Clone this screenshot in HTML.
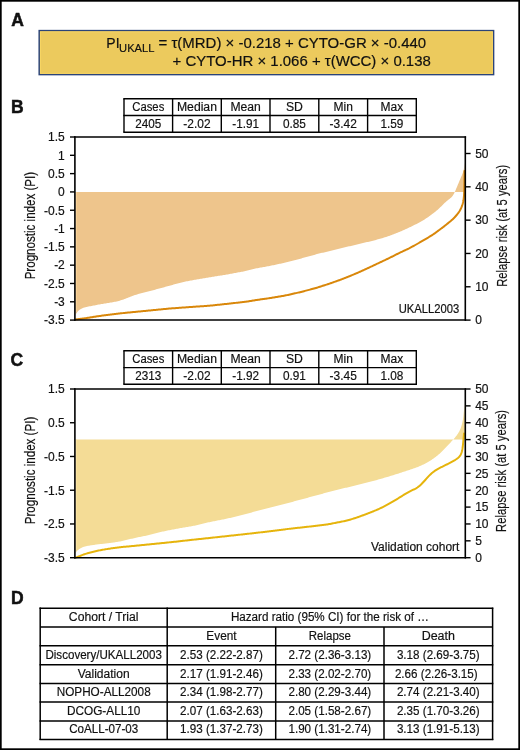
<!DOCTYPE html>
<html><head><meta charset="utf-8"><style>
html,body{margin:0;padding:0;background:#fff;overflow:hidden;width:520px;height:750px;}
svg{display:block;will-change:transform;}
text{font-family:"Liberation Sans", sans-serif;fill:#111;stroke:#111;stroke-width:0.18px;}
</style></head><body>
<svg width="520" height="750" viewBox="0 0 520 750">
<rect x="0" y="0" width="520" height="750" fill="#fff"/>
<rect x="0.85" y="0.85" width="518.3" height="748.3" fill="none" stroke="#000" stroke-width="1.7"/>
<text x="11.2" y="25.8" font-size="17.5" text-anchor="start" font-weight="bold" style="stroke-width:0.5px">A</text>
<text x="11.0" y="113.3" font-size="17.5" text-anchor="start" font-weight="bold" style="stroke-width:0.5px">B</text>
<text x="10.6" y="365.6" font-size="17.5" text-anchor="start" font-weight="bold" style="stroke-width:0.5px">C</text>
<text x="11.0" y="604" font-size="17.5" text-anchor="start" font-weight="bold" style="stroke-width:0.5px">D</text>
<rect x="39.2" y="30.6" width="454.4" height="44" fill="#ECCA5D" stroke="#2B4479" stroke-width="1.5"/>
<rect x="40.45" y="31.85" width="451.9" height="41.5" fill="none" stroke="#F8D564" stroke-width="1"/>
<text x="106.3" y="48.2" font-size="14">PI</text>
<text x="119.1" y="52.2" font-size="11" textLength="35.3" lengthAdjust="spacingAndGlyphs">UKALL</text>
<text x="158.5" y="48.2" font-size="14" text-anchor="start" textLength="267.7" lengthAdjust="spacingAndGlyphs">= τ(MRD) × -0.218 + CYTO-GR × -0.440</text>
<text x="172.6" y="66.2" font-size="14" text-anchor="start" textLength="258.2" lengthAdjust="spacingAndGlyphs">+ CYTO-HR × 1.066 + τ(WCC) × 0.138</text>
<line x1="123.3" y1="98.7" x2="417.0" y2="98.7" stroke="#000" stroke-width="1.4"/>
<line x1="123.3" y1="115.5" x2="417.0" y2="115.5" stroke="#000" stroke-width="1.4"/>
<line x1="123.3" y1="132.2" x2="417.0" y2="132.2" stroke="#000" stroke-width="1.4"/>
<line x1="124" y1="98.7" x2="124" y2="132.2" stroke="#000" stroke-width="1.4"/>
<line x1="172.6" y1="98.7" x2="172.6" y2="132.2" stroke="#000" stroke-width="1.4"/>
<line x1="221.3" y1="98.7" x2="221.3" y2="132.2" stroke="#000" stroke-width="1.4"/>
<line x1="270" y1="98.7" x2="270" y2="132.2" stroke="#000" stroke-width="1.4"/>
<line x1="318.8" y1="98.7" x2="318.8" y2="132.2" stroke="#000" stroke-width="1.4"/>
<line x1="367.6" y1="98.7" x2="367.6" y2="132.2" stroke="#000" stroke-width="1.4"/>
<line x1="416.3" y1="98.7" x2="416.3" y2="132.2" stroke="#000" stroke-width="1.4"/>
<text x="148.3" y="110.6" font-size="12" text-anchor="middle" textLength="32" lengthAdjust="spacingAndGlyphs">Cases</text>
<text x="148.3" y="127.9" font-size="12" text-anchor="middle" textLength="26" lengthAdjust="spacingAndGlyphs">2405</text>
<text x="196.95" y="110.6" font-size="12" text-anchor="middle" textLength="40" lengthAdjust="spacingAndGlyphs">Median</text>
<text x="196.95" y="127.9" font-size="12" text-anchor="middle" textLength="27.2" lengthAdjust="spacingAndGlyphs">-2.02</text>
<text x="245.65" y="110.6" font-size="12" text-anchor="middle" textLength="30.4" lengthAdjust="spacingAndGlyphs">Mean</text>
<text x="245.65" y="127.9" font-size="12" text-anchor="middle" textLength="26.8" lengthAdjust="spacingAndGlyphs">-1.91</text>
<text x="294.4" y="110.6" font-size="12" text-anchor="middle" textLength="17" lengthAdjust="spacingAndGlyphs">SD</text>
<text x="294.4" y="127.9" font-size="12" text-anchor="middle" textLength="23.0" lengthAdjust="spacingAndGlyphs">0.85</text>
<text x="343.2" y="110.6" font-size="12" text-anchor="middle">Min</text>
<text x="343.2" y="127.9" font-size="12" text-anchor="middle" textLength="27.2" lengthAdjust="spacingAndGlyphs">-3.42</text>
<text x="391.95" y="110.6" font-size="12" text-anchor="middle">Max</text>
<text x="391.95" y="127.9" font-size="12" text-anchor="middle" textLength="23.0" lengthAdjust="spacingAndGlyphs">1.59</text>
<line x1="123.3" y1="350.8" x2="417.0" y2="350.8" stroke="#000" stroke-width="1.4"/>
<line x1="123.3" y1="367.6" x2="417.0" y2="367.6" stroke="#000" stroke-width="1.4"/>
<line x1="123.3" y1="384.3" x2="417.0" y2="384.3" stroke="#000" stroke-width="1.4"/>
<line x1="124" y1="350.8" x2="124" y2="384.3" stroke="#000" stroke-width="1.4"/>
<line x1="172.6" y1="350.8" x2="172.6" y2="384.3" stroke="#000" stroke-width="1.4"/>
<line x1="221.3" y1="350.8" x2="221.3" y2="384.3" stroke="#000" stroke-width="1.4"/>
<line x1="270" y1="350.8" x2="270" y2="384.3" stroke="#000" stroke-width="1.4"/>
<line x1="318.8" y1="350.8" x2="318.8" y2="384.3" stroke="#000" stroke-width="1.4"/>
<line x1="367.6" y1="350.8" x2="367.6" y2="384.3" stroke="#000" stroke-width="1.4"/>
<line x1="416.3" y1="350.8" x2="416.3" y2="384.3" stroke="#000" stroke-width="1.4"/>
<text x="148.3" y="362.7" font-size="12" text-anchor="middle" textLength="32" lengthAdjust="spacingAndGlyphs">Cases</text>
<text x="148.3" y="380.0" font-size="12" text-anchor="middle" textLength="26" lengthAdjust="spacingAndGlyphs">2313</text>
<text x="196.95" y="362.7" font-size="12" text-anchor="middle" textLength="40" lengthAdjust="spacingAndGlyphs">Median</text>
<text x="196.95" y="380.0" font-size="12" text-anchor="middle" textLength="27.2" lengthAdjust="spacingAndGlyphs">-2.02</text>
<text x="245.65" y="362.7" font-size="12" text-anchor="middle" textLength="30.4" lengthAdjust="spacingAndGlyphs">Mean</text>
<text x="245.65" y="380.0" font-size="12" text-anchor="middle" textLength="26.8" lengthAdjust="spacingAndGlyphs">-1.92</text>
<text x="294.4" y="362.7" font-size="12" text-anchor="middle" textLength="17" lengthAdjust="spacingAndGlyphs">SD</text>
<text x="294.4" y="380.0" font-size="12" text-anchor="middle" textLength="23.0" lengthAdjust="spacingAndGlyphs">0.91</text>
<text x="343.2" y="362.7" font-size="12" text-anchor="middle">Min</text>
<text x="343.2" y="380.0" font-size="12" text-anchor="middle" textLength="27.2" lengthAdjust="spacingAndGlyphs">-3.45</text>
<text x="391.95" y="362.7" font-size="12" text-anchor="middle">Max</text>
<text x="391.95" y="380.0" font-size="12" text-anchor="middle" textLength="23.0" lengthAdjust="spacingAndGlyphs">1.08</text>
<path d="M75.6,191.9 L465,191.9 L464.50,163.00 L464.40,164.00 L464.31,165.03 L464.21,166.08 L464.11,167.12 L463.97,168.15 L463.80,169.16 L463.59,170.17 L463.35,171.17 L463.06,172.15 L462.75,173.11 L462.39,174.06 L462.00,175.00 L461.60,175.93 L461.20,176.87 L460.80,177.80 L460.40,178.73 L460.00,179.67 L459.60,180.60 L459.21,181.54 L458.81,182.47 L458.42,183.41 L458.02,184.34 L457.63,185.28 L457.24,186.21 L456.85,187.15 L456.46,188.09 L456.07,189.02 L455.67,189.96 L455.27,190.90 L454.86,191.84 L454.43,192.76 L453.96,193.66 L453.46,194.53 L452.92,195.38 L452.32,196.19 L451.68,196.95 L450.98,197.66 L450.23,198.33 L449.44,198.96 L448.65,199.60 L447.86,200.23 L447.06,200.86 L446.28,201.51 L445.52,202.17 L444.77,202.85 L444.04,203.54 L443.33,204.26 L442.62,204.97 L441.91,205.69 L441.20,206.40 L440.48,207.11 L439.75,207.81 L439.00,208.51 L438.24,209.20 L437.45,209.88 L436.66,210.56 L435.85,211.22 L435.03,211.88 L434.19,212.53 L433.35,213.18 L432.52,213.83 L431.68,214.46 L430.85,215.09 L430.02,215.70 L429.19,216.30 L428.35,216.89 L427.51,217.47 L426.67,218.03 L425.83,218.59 L424.99,219.14 L424.14,219.68 L423.29,220.22 L422.43,220.74 L421.55,221.26 L420.67,221.76 L419.77,222.26 L418.86,222.75 L417.95,223.22 L417.02,223.69 L416.10,224.15 L415.17,224.62 L414.24,225.08 L413.31,225.54 L412.38,226.00 L411.46,226.46 L410.53,226.91 L409.60,227.35 L408.67,227.79 L407.74,228.22 L406.82,228.64 L405.89,229.06 L404.96,229.48 L404.03,229.90 L403.10,230.31 L402.18,230.73 L401.25,231.14 L400.31,231.55 L399.38,231.95 L398.44,232.34 L397.50,232.73 L396.55,233.11 L395.60,233.49 L394.64,233.85 L393.69,234.21 L392.73,234.57 L391.77,234.93 L390.81,235.29 L389.85,235.64 L388.89,235.99 L387.92,236.33 L386.94,236.66 L385.97,236.98 L384.98,237.30 L383.99,237.60 L383.00,237.90 L382.00,238.19 L381.00,238.48 L380.00,238.77 L379.00,239.05 L378.00,239.33 L377.00,239.61 L376.00,239.88 L375.00,240.15 L374.00,240.41 L373.00,240.67 L372.00,240.92 L371.00,241.16 L370.00,241.40 L369.00,241.64 L368.00,241.88 L367.00,242.12 L366.00,242.36 L365.00,242.60 L364.00,242.84 L363.00,243.08 L362.00,243.32 L361.00,243.56 L360.00,243.79 L359.00,244.03 L358.00,244.26 L357.00,244.50 L356.00,244.73 L355.00,244.97 L354.00,245.20 L353.00,245.43 L352.00,245.67 L351.00,245.90 L350.00,246.13 L349.00,246.37 L348.00,246.60 L347.00,246.84 L346.00,247.07 L345.00,247.31 L344.00,247.54 L343.00,247.78 L342.00,248.02 L341.00,248.26 L340.00,248.50 L339.00,248.74 L338.00,248.98 L337.00,249.22 L336.00,249.46 L335.00,249.70 L334.00,249.94 L333.00,250.18 L332.00,250.42 L331.00,250.66 L330.00,250.91 L329.00,251.15 L328.00,251.40 L327.00,251.64 L326.00,251.89 L325.00,252.13 L324.00,252.38 L323.00,252.63 L322.00,252.87 L321.00,253.12 L320.00,253.37 L319.00,253.61 L318.00,253.86 L317.01,254.11 L316.02,254.37 L315.03,254.63 L314.05,254.89 L313.07,255.15 L312.10,255.42 L311.13,255.68 L310.16,255.95 L309.19,256.23 L308.23,256.50 L307.26,256.77 L306.29,257.04 L305.32,257.31 L304.35,257.58 L303.39,257.85 L302.41,258.12 L301.44,258.39 L300.46,258.66 L299.47,258.92 L298.49,259.19 L297.49,259.45 L296.50,259.71 L295.50,259.97 L294.50,260.23 L293.50,260.49 L292.50,260.75 L291.50,261.01 L290.50,261.27 L289.50,261.53 L288.50,261.79 L287.50,262.04 L286.50,262.29 L285.50,262.53 L284.50,262.77 L283.50,263.00 L282.50,263.23 L281.50,263.45 L280.50,263.66 L279.50,263.87 L278.50,264.09 L277.50,264.30 L276.50,264.51 L275.50,264.73 L274.50,264.94 L273.50,265.15 L272.50,265.36 L271.50,265.57 L270.50,265.77 L269.50,265.96 L268.50,266.16 L267.50,266.34 L266.50,266.53 L265.50,266.71 L264.50,266.89 L263.50,267.07 L262.50,267.25 L261.50,267.43 L260.50,267.61 L259.50,267.79 L258.50,267.97 L257.50,268.17 L256.49,268.37 L255.49,268.59 L254.48,268.82 L253.48,269.05 L252.47,269.30 L251.46,269.57 L250.44,269.83 L249.44,270.10 L248.43,270.35 L247.43,270.59 L246.43,270.82 L245.44,271.04 L244.44,271.25 L243.45,271.44 L242.47,271.63 L241.48,271.82 L240.50,272.00 L239.52,272.18 L238.53,272.37 L237.55,272.55 L236.56,272.74 L235.58,272.92 L234.59,273.11 L233.61,273.29 L232.62,273.48 L231.64,273.66 L230.65,273.84 L229.66,274.02 L228.67,274.20 L227.67,274.38 L226.67,274.55 L225.67,274.72 L224.67,274.89 L223.66,275.05 L222.65,275.22 L221.64,275.38 L220.63,275.54 L219.62,275.71 L218.61,275.87 L217.59,276.03 L216.58,276.19 L215.57,276.36 L214.56,276.52 L213.55,276.68 L212.54,276.85 L211.53,277.01 L210.53,277.18 L209.52,277.34 L208.52,277.51 L207.52,277.67 L206.53,277.84 L205.53,278.01 L204.54,278.18 L203.55,278.35 L202.56,278.52 L201.57,278.68 L200.58,278.85 L199.59,279.02 L198.60,279.19 L197.61,279.36 L196.62,279.53 L195.63,279.70 L194.64,279.87 L193.65,280.04 L192.66,280.21 L191.67,280.39 L190.68,280.57 L189.68,280.76 L188.68,280.95 L187.68,281.15 L186.67,281.36 L185.66,281.58 L184.65,281.79 L183.64,282.02 L182.63,282.24 L181.62,282.48 L180.61,282.72 L179.60,282.97 L178.59,283.22 L177.58,283.49 L176.57,283.76 L175.56,284.04 L174.55,284.32 L173.54,284.61 L172.52,284.89 L171.51,285.17 L170.49,285.45 L169.47,285.74 L168.45,286.02 L167.43,286.30 L166.41,286.58 L165.38,286.86 L164.35,287.14 L163.33,287.42 L162.30,287.70 L161.27,287.98 L160.25,288.26 L159.22,288.54 L158.19,288.82 L157.17,289.10 L156.15,289.37 L155.12,289.64 L154.10,289.90 L153.09,290.17 L152.07,290.43 L151.05,290.69 L150.04,290.94 L149.04,291.20 L148.04,291.45 L147.04,291.71 L146.05,291.97 L145.06,292.23 L144.08,292.49 L143.10,292.75 L142.12,293.01 L141.13,293.28 L140.13,293.55 L139.12,293.81 L138.11,294.09 L137.11,294.39 L136.10,294.70 L135.10,295.02 L134.11,295.36 L133.12,295.71 L132.15,296.07 L131.19,296.45 L130.24,296.84 L129.28,297.22 L128.33,297.60 L127.38,297.97 L126.42,298.33 L125.47,298.69 L124.52,299.04 L123.56,299.39 L122.61,299.74 L121.65,300.06 L120.69,300.37 L119.71,300.66 L118.73,300.94 L117.73,301.19 L116.74,301.43 L115.73,301.65 L114.71,301.86 L113.69,302.04 L112.67,302.23 L111.65,302.41 L110.63,302.59 L109.61,302.77 L108.60,302.94 L107.59,303.10 L106.58,303.27 L105.57,303.43 L104.56,303.58 L103.55,303.74 L102.54,303.90 L101.53,304.05 L100.52,304.22 L99.52,304.40 L98.51,304.59 L97.51,304.79 L96.50,304.99 L95.50,305.20 L94.50,305.40 L93.50,305.61 L92.50,305.81 L91.50,305.99 L90.50,306.17 L89.50,306.35 L88.49,306.54 L87.48,306.75 L86.46,306.98 L85.44,307.23 L84.42,307.51 L83.41,307.85 L82.40,308.24 L81.41,308.69 L80.48,309.20 L79.59,309.77 L78.77,310.41 L78.04,311.12 L77.41,311.91 L76.79,312.72 L76.25,313.58 L75.85,314.50 L75.62,315.50 L75.50,316.00 Z" fill="#EEC58C" stroke="none"/>
<rect x="75.7" y="191.9" width="1.1" height="120.2" fill="#FAD59C"/>
<path d="M75.80,319.40 L76.81,319.28 L77.82,319.17 L78.83,319.05 L79.84,318.94 L80.85,318.82 L81.86,318.70 L82.87,318.58 L83.89,318.45 L84.90,318.31 L85.91,318.17 L86.92,318.01 L87.93,317.86 L88.95,317.69 L89.96,317.52 L90.98,317.35 L92.00,317.18 L93.03,317.01 L94.06,316.85 L95.09,316.68 L96.12,316.52 L97.16,316.36 L98.20,316.20 L99.23,316.05 L100.27,315.90 L101.30,315.76 L102.33,315.61 L103.36,315.47 L104.39,315.33 L105.42,315.20 L106.44,315.07 L107.47,314.94 L108.49,314.81 L109.52,314.69 L110.54,314.56 L111.56,314.44 L112.58,314.32 L113.60,314.20 L114.62,314.08 L115.64,313.96 L116.66,313.84 L117.68,313.72 L118.70,313.60 L119.72,313.48 L120.74,313.36 L121.76,313.25 L122.78,313.13 L123.81,313.02 L124.83,312.91 L125.86,312.81 L126.88,312.70 L127.91,312.60 L128.93,312.50 L129.96,312.40 L130.99,312.30 L132.01,312.20 L133.04,312.10 L134.07,312.00 L135.09,311.90 L136.12,311.80 L137.15,311.70 L138.17,311.60 L139.20,311.50 L140.23,311.40 L141.25,311.30 L142.28,311.20 L143.31,311.10 L144.33,311.00 L145.36,310.90 L146.39,310.80 L147.41,310.70 L148.44,310.60 L149.47,310.50 L150.49,310.40 L151.52,310.30 L152.55,310.20 L153.57,310.10 L154.60,310.00 L155.63,309.90 L156.65,309.80 L157.68,309.70 L158.71,309.60 L159.73,309.50 L160.76,309.40 L161.79,309.30 L162.81,309.20 L163.84,309.10 L164.87,309.00 L165.89,308.90 L166.92,308.80 L167.94,308.71 L168.96,308.62 L169.98,308.53 L171.00,308.44 L172.02,308.36 L173.03,308.28 L174.04,308.21 L175.05,308.13 L176.06,308.06 L177.07,307.98 L178.08,307.91 L179.09,307.84 L180.11,307.76 L181.12,307.69 L182.13,307.62 L183.14,307.54 L184.15,307.47 L185.16,307.39 L186.17,307.32 L187.18,307.25 L188.19,307.18 L189.21,307.11 L190.22,307.03 L191.23,306.96 L192.25,306.90 L193.26,306.83 L194.28,306.76 L195.29,306.69 L196.31,306.62 L197.33,306.55 L198.34,306.48 L199.36,306.42 L200.37,306.35 L201.39,306.28 L202.41,306.21 L203.42,306.14 L204.44,306.07 L205.45,306.00 L206.47,305.93 L207.48,305.85 L208.49,305.76 L209.51,305.67 L210.52,305.58 L211.53,305.48 L212.54,305.38 L213.55,305.27 L214.56,305.17 L215.57,305.06 L216.58,304.96 L217.59,304.85 L218.61,304.75 L219.62,304.64 L220.63,304.54 L221.64,304.43 L222.65,304.33 L223.66,304.22 L224.67,304.11 L225.68,304.01 L226.69,303.90 L227.70,303.79 L228.71,303.68 L229.72,303.57 L230.73,303.45 L231.74,303.34 L232.75,303.22 L233.76,303.11 L234.77,302.99 L235.78,302.87 L236.79,302.76 L237.81,302.64 L238.82,302.53 L239.83,302.41 L240.84,302.29 L241.85,302.18 L242.86,302.06 L243.87,301.94 L244.88,301.81 L245.89,301.68 L246.90,301.54 L247.91,301.39 L248.93,301.23 L249.94,301.07 L250.95,300.90 L251.96,300.73 L252.97,300.56 L253.98,300.40 L254.99,300.24 L255.99,300.08 L257.00,299.93 L258.00,299.78 L259.00,299.64 L260.00,299.50 L261.00,299.36 L262.00,299.22 L263.00,299.08 L264.00,298.94 L265.00,298.80 L266.00,298.66 L267.00,298.52 L268.00,298.37 L269.00,298.22 L270.00,298.07 L271.00,297.92 L272.00,297.76 L273.00,297.60 L274.00,297.43 L275.00,297.27 L276.00,297.10 L277.00,296.93 L278.00,296.77 L279.00,296.60 L280.00,296.43 L281.00,296.27 L282.00,296.09 L283.00,295.92 L284.00,295.73 L285.00,295.54 L286.00,295.34 L287.00,295.13 L288.00,294.91 L289.00,294.69 L290.00,294.47 L291.00,294.24 L292.00,294.01 L293.00,293.79 L294.00,293.56 L295.00,293.33 L296.00,293.11 L297.00,292.88 L298.00,292.64 L299.00,292.41 L300.00,292.16 L301.00,291.92 L302.00,291.67 L303.00,291.42 L304.00,291.16 L305.00,290.90 L306.00,290.64 L307.00,290.38 L308.00,290.12 L309.00,289.86 L310.00,289.60 L311.00,289.34 L312.00,289.08 L312.99,288.81 L313.98,288.53 L314.97,288.25 L315.95,287.96 L316.93,287.67 L317.90,287.37 L318.87,287.06 L319.84,286.75 L320.81,286.44 L321.77,286.13 L322.74,285.82 L323.71,285.51 L324.68,285.20 L325.65,284.89 L326.61,284.58 L327.58,284.27 L328.55,283.95 L329.52,283.62 L330.48,283.29 L331.45,282.96 L332.42,282.62 L333.39,282.28 L334.35,281.93 L335.32,281.58 L336.29,281.24 L337.26,280.89 L338.23,280.54 L339.19,280.19 L340.16,279.84 L341.13,279.49 L342.09,279.14 L343.06,278.78 L344.01,278.42 L344.97,278.05 L345.92,277.68 L346.87,277.30 L347.81,276.91 L348.75,276.53 L349.69,276.13 L350.62,275.74 L351.56,275.34 L352.50,274.95 L353.44,274.56 L354.38,274.16 L355.31,273.77 L356.25,273.38 L357.18,272.98 L358.12,272.58 L359.04,272.17 L359.97,271.77 L360.89,271.36 L361.81,270.94 L362.72,270.52 L363.64,270.10 L364.55,269.68 L365.45,269.25 L366.36,268.83 L367.27,268.41 L368.18,267.98 L369.09,267.56 L370.00,267.13 L370.91,266.71 L371.82,266.28 L372.73,265.86 L373.64,265.43 L374.55,265.01 L375.45,264.58 L376.36,264.15 L377.27,263.72 L378.18,263.29 L379.09,262.86 L380.00,262.43 L380.91,262.00 L381.82,261.57 L382.73,261.14 L383.64,260.71 L384.55,260.28 L385.45,259.85 L386.36,259.42 L387.27,258.99 L388.18,258.55 L389.09,258.11 L390.00,257.66 L390.91,257.22 L391.82,256.76 L392.73,256.31 L393.64,255.85 L394.55,255.38 L395.45,254.92 L396.36,254.45 L397.27,253.99 L398.18,253.54 L399.09,253.09 L400.00,252.65 L400.91,252.21 L401.82,251.78 L402.73,251.35 L403.64,250.93 L404.55,250.51 L405.45,250.09 L406.36,249.67 L407.27,249.25 L408.17,248.81 L409.08,248.37 L409.97,247.91 L410.87,247.45 L411.76,246.98 L412.65,246.49 L413.54,246.00 L414.42,245.50 L415.31,245.00 L416.19,244.50 L417.08,244.00 L417.96,243.50 L418.85,243.00 L419.73,242.49 L420.62,241.98 L421.51,241.47 L422.40,240.95 L423.29,240.43 L424.18,239.90 L425.07,239.38 L425.96,238.85 L426.85,238.32 L427.75,237.78 L428.64,237.25 L429.53,236.72 L430.42,236.18 L431.29,235.64 L432.16,235.08 L433.02,234.51 L433.88,233.93 L434.72,233.35 L435.56,232.75 L436.39,232.14 L437.21,231.53 L438.03,230.91 L438.85,230.30 L439.67,229.69 L440.49,229.07 L441.31,228.46 L442.13,227.84 L442.95,227.22 L443.77,226.59 L444.58,225.96 L445.39,225.32 L446.19,224.68 L447.00,224.04 L447.80,223.39 L448.60,222.74 L449.40,222.09 L450.20,221.43 L451.00,220.78 L451.77,220.11 L452.53,219.42 L453.27,218.72 L453.99,218.01 L454.70,217.28 L455.38,216.53 L456.05,215.77 L456.70,215.00 L457.34,214.22 L457.95,213.42 L458.53,212.60 L459.09,211.77 L459.62,210.92 L460.12,210.06 L460.59,209.17 L461.04,208.28 L461.44,207.35 L461.81,206.41 L462.15,205.46 L462.47,204.50 L462.77,203.52 L463.03,202.54 L463.26,201.54 L463.44,200.54 L463.58,199.52 L463.71,198.51 L463.82,197.51 L463.92,196.50 L463.99,195.50 L464.05,194.50 L464.10,193.50 L464.15,192.50 L464.19,191.50 L464.23,190.50 L464.27,189.50 L464.30,188.50 L464.33,187.50 L464.35,186.50 L464.37,185.50 L464.40,184.50 L464.42,183.50 L464.43,182.50 L464.45,181.50 L464.46,180.50 L464.47,179.50 L464.48,178.50 L464.49,177.50 L464.49,176.50 L464.50,175.50 L464.50,174.50 L464.50,173.50 L464.50,172.50 L464.50,171.50 L464.50,171.00" fill="none" stroke="#D9870A" stroke-width="2" stroke-linejoin="round" stroke-linecap="round"/>
<line x1="74.9" y1="136.3" x2="74.9" y2="320.8" stroke="#000" stroke-width="1.6"/>
<line x1="465.3" y1="136.3" x2="465.3" y2="320.8" stroke="#000" stroke-width="1.6"/>
<line x1="74.10000000000001" y1="137.0" x2="466.1" y2="137.0" stroke="#000" stroke-width="1.5"/>
<line x1="74.10000000000001" y1="320.1" x2="466.1" y2="320.1" stroke="#000" stroke-width="1.5"/>
<line x1="70" y1="137.0" x2="74.9" y2="137.0" stroke="#000" stroke-width="1.4"/>
<text x="64.8" y="141.3" font-size="12" text-anchor="end">1.5</text>
<line x1="70" y1="155.31" x2="74.9" y2="155.31" stroke="#000" stroke-width="1.4"/>
<text x="64.8" y="159.61" font-size="12" text-anchor="end">1</text>
<line x1="70" y1="173.62" x2="74.9" y2="173.62" stroke="#000" stroke-width="1.4"/>
<text x="64.8" y="177.92" font-size="12" text-anchor="end">0.5</text>
<line x1="70" y1="191.93" x2="74.9" y2="191.93" stroke="#000" stroke-width="1.4"/>
<text x="64.8" y="196.23" font-size="12" text-anchor="end">0</text>
<line x1="70" y1="210.24" x2="74.9" y2="210.24" stroke="#000" stroke-width="1.4"/>
<text x="64.8" y="214.54" font-size="12" text-anchor="end">-0.5</text>
<line x1="70" y1="228.55" x2="74.9" y2="228.55" stroke="#000" stroke-width="1.4"/>
<text x="64.8" y="232.85" font-size="12" text-anchor="end">-1</text>
<line x1="70" y1="246.86" x2="74.9" y2="246.86" stroke="#000" stroke-width="1.4"/>
<text x="64.8" y="251.16" font-size="12" text-anchor="end">-1.5</text>
<line x1="70" y1="265.17" x2="74.9" y2="265.17" stroke="#000" stroke-width="1.4"/>
<text x="64.8" y="269.47" font-size="12" text-anchor="end">-2</text>
<line x1="70" y1="283.48" x2="74.9" y2="283.48" stroke="#000" stroke-width="1.4"/>
<text x="64.8" y="287.78" font-size="12" text-anchor="end">-2.5</text>
<line x1="70" y1="301.79" x2="74.9" y2="301.79" stroke="#000" stroke-width="1.4"/>
<text x="64.8" y="306.09" font-size="12" text-anchor="end">-3</text>
<line x1="70" y1="320.1" x2="74.9" y2="320.1" stroke="#000" stroke-width="1.4"/>
<text x="64.8" y="324.4" font-size="12" text-anchor="end">-3.5</text>
<line x1="465.3" y1="320.1" x2="470.6" y2="320.1" stroke="#000" stroke-width="1.4"/>
<text x="475.2" y="324.4" font-size="12" text-anchor="start">0</text>
<line x1="465.3" y1="286.78000000000003" x2="470.6" y2="286.78000000000003" stroke="#000" stroke-width="1.4"/>
<text x="475.2" y="291.08" font-size="12" text-anchor="start">10</text>
<line x1="465.3" y1="253.46" x2="470.6" y2="253.46" stroke="#000" stroke-width="1.4"/>
<text x="475.2" y="257.76" font-size="12" text-anchor="start">20</text>
<line x1="465.3" y1="220.14000000000001" x2="470.6" y2="220.14000000000001" stroke="#000" stroke-width="1.4"/>
<text x="475.2" y="224.44" font-size="12" text-anchor="start">30</text>
<line x1="465.3" y1="186.82" x2="470.6" y2="186.82" stroke="#000" stroke-width="1.4"/>
<text x="475.2" y="191.12" font-size="12" text-anchor="start">40</text>
<line x1="465.3" y1="153.5" x2="470.6" y2="153.5" stroke="#000" stroke-width="1.4"/>
<text x="475.2" y="157.8" font-size="12" text-anchor="start">50</text>
<text x="459.2" y="313" font-size="12" text-anchor="end" textLength="60.5" lengthAdjust="spacingAndGlyphs">UKALL2003</text>
<text transform="translate(35.3,225.6) rotate(-90)" font-size="14" text-anchor="middle" textLength="107.5" lengthAdjust="spacingAndGlyphs">Prognostic index (PI)</text>
<text transform="translate(507.0,225.8) rotate(-90)" font-size="14" text-anchor="middle" textLength="122" lengthAdjust="spacingAndGlyphs">Relapse risk (at 5 years)</text>
<path d="M75.6,439.6 L465,439.6 L464.60,404.00 L464.50,405.00 L464.40,406.00 L464.30,407.00 L464.20,408.00 L464.10,409.00 L464.00,410.00 L463.90,411.00 L463.80,412.00 L463.70,413.00 L463.60,414.00 L463.50,415.00 L463.40,416.00 L463.29,417.00 L463.16,418.00 L463.01,419.00 L462.84,420.00 L462.66,421.00 L462.46,422.00 L462.24,423.00 L462.00,424.00 L461.73,424.99 L461.44,425.98 L461.12,426.95 L460.78,427.92 L460.41,428.88 L460.01,429.82 L459.59,430.76 L459.11,431.67 L458.59,432.57 L458.04,433.45 L457.46,434.32 L456.86,435.18 L456.23,436.02 L455.57,436.85 L454.88,437.66 L454.18,438.46 L453.48,439.26 L452.78,440.05 L452.06,440.84 L451.35,441.62 L450.62,442.39 L449.89,443.16 L449.15,443.92 L448.42,444.69 L447.69,445.45 L446.97,446.21 L446.25,446.97 L445.53,447.73 L444.82,448.48 L444.10,449.24 L443.38,449.98 L442.65,450.72 L441.90,451.46 L441.15,452.19 L440.39,452.92 L439.61,453.63 L438.83,454.32 L438.04,455.00 L437.23,455.65 L436.43,456.30 L435.61,456.92 L434.79,457.54 L433.96,458.13 L433.13,458.71 L432.29,459.30 L431.46,459.88 L430.62,460.46 L429.77,461.02 L428.91,461.56 L428.04,462.08 L427.16,462.59 L426.28,463.07 L425.37,463.54 L424.46,464.00 L423.54,464.43 L422.62,464.86 L421.70,465.29 L420.77,465.70 L419.84,466.11 L418.91,466.50 L417.97,466.89 L417.03,467.25 L416.09,467.61 L415.15,467.95 L414.20,468.28 L413.25,468.60 L412.30,468.92 L411.35,469.24 L410.39,469.56 L409.44,469.88 L408.48,470.20 L407.52,470.52 L406.55,470.84 L405.59,471.16 L404.62,471.48 L403.65,471.80 L402.68,472.12 L401.71,472.44 L400.74,472.75 L399.78,473.07 L398.81,473.38 L397.85,473.69 L396.88,473.99 L395.92,474.30 L394.96,474.60 L394.00,474.90 L393.04,475.20 L392.08,475.50 L391.11,475.80 L390.13,476.10 L389.15,476.39 L388.16,476.69 L387.16,476.99 L386.16,477.28 L385.16,477.58 L384.15,477.87 L383.14,478.17 L382.13,478.46 L381.12,478.75 L380.11,479.04 L379.09,479.33 L378.08,479.62 L377.07,479.91 L376.06,480.19 L375.05,480.48 L374.04,480.76 L373.03,481.04 L372.03,481.32 L371.03,481.59 L370.03,481.85 L369.03,482.11 L368.04,482.36 L367.05,482.61 L366.07,482.85 L365.09,483.09 L364.10,483.33 L363.12,483.57 L362.14,483.81 L361.15,484.04 L360.17,484.28 L359.19,484.52 L358.20,484.76 L357.22,485.00 L356.24,485.24 L355.26,485.47 L354.27,485.71 L353.29,485.95 L352.31,486.19 L351.32,486.43 L350.34,486.67 L349.36,486.91 L348.37,487.15 L347.39,487.39 L346.41,487.63 L345.42,487.87 L344.44,488.12 L343.45,488.36 L342.47,488.61 L341.48,488.85 L340.50,489.10 L339.52,489.35 L338.53,489.59 L337.55,489.84 L336.56,490.08 L335.58,490.33 L334.59,490.58 L333.61,490.82 L332.62,491.07 L331.64,491.32 L330.65,491.56 L329.67,491.81 L328.68,492.07 L327.70,492.32 L326.72,492.58 L325.73,492.84 L324.75,493.10 L323.76,493.37 L322.78,493.63 L321.79,493.90 L320.81,494.17 L319.82,494.43 L318.84,494.70 L317.85,494.97 L316.87,495.23 L315.88,495.50 L314.90,495.77 L313.92,496.03 L312.93,496.30 L311.95,496.57 L310.96,496.83 L309.97,497.10 L308.99,497.37 L308.00,497.63 L307.01,497.90 L306.02,498.17 L305.04,498.43 L304.05,498.70 L303.06,498.97 L302.07,499.23 L301.08,499.50 L300.09,499.77 L299.10,500.03 L298.11,500.30 L297.12,500.57 L296.13,500.83 L295.14,501.10 L294.15,501.37 L293.16,501.63 L292.17,501.90 L291.18,502.16 L290.19,502.42 L289.21,502.68 L288.22,502.93 L287.23,503.19 L286.25,503.44 L285.26,503.68 L284.28,503.93 L283.29,504.18 L282.31,504.42 L281.32,504.67 L280.34,504.92 L279.35,505.16 L278.37,505.41 L277.38,505.65 L276.40,505.90 L275.42,506.15 L274.43,506.39 L273.45,506.64 L272.46,506.89 L271.48,507.14 L270.49,507.39 L269.51,507.65 L268.53,507.90 L267.54,508.16 L266.56,508.42 L265.58,508.69 L264.59,508.95 L263.61,509.21 L262.63,509.48 L261.64,509.74 L260.66,510.01 L259.68,510.27 L258.70,510.53 L257.71,510.80 L256.73,511.06 L255.75,511.33 L254.76,511.59 L253.78,511.85 L252.80,512.12 L251.81,512.38 L250.83,512.64 L249.85,512.91 L248.87,513.17 L247.88,513.43 L246.90,513.68 L245.91,513.94 L244.93,514.19 L243.95,514.44 L242.96,514.68 L241.98,514.93 L240.99,515.18 L240.01,515.42 L239.02,515.67 L238.04,515.92 L237.05,516.16 L236.07,516.41 L235.08,516.65 L234.10,516.90 L233.12,517.15 L232.13,517.39 L231.15,517.64 L230.16,517.88 L229.18,518.11 L228.19,518.33 L227.21,518.56 L226.22,518.77 L225.24,518.98 L224.25,519.18 L223.27,519.38 L222.28,519.57 L221.30,519.77 L220.32,519.96 L219.33,520.16 L218.35,520.35 L217.36,520.55 L216.38,520.74 L215.39,520.94 L214.41,521.13 L213.42,521.33 L212.44,521.52 L211.45,521.72 L210.46,521.92 L209.48,522.14 L208.48,522.35 L207.49,522.58 L206.50,522.80 L205.50,523.04 L204.50,523.28 L203.50,523.52 L202.50,523.77 L201.50,524.01 L200.50,524.26 L199.50,524.50 L198.50,524.74 L197.50,524.98 L196.50,525.20 L195.50,525.42 L194.50,525.63 L193.50,525.83 L192.50,526.02 L191.50,526.20 L190.50,526.38 L189.50,526.55 L188.50,526.73 L187.50,526.90 L186.50,527.07 L185.50,527.25 L184.50,527.42 L183.50,527.59 L182.50,527.77 L181.50,527.95 L180.50,528.12 L179.50,528.30 L178.50,528.49 L177.50,528.67 L176.50,528.85 L175.50,529.04 L174.50,529.23 L173.50,529.41 L172.50,529.60 L171.50,529.79 L170.50,529.97 L169.50,530.16 L168.50,530.35 L167.50,530.54 L166.51,530.74 L165.52,530.95 L164.54,531.17 L163.55,531.39 L162.57,531.62 L161.60,531.85 L160.62,532.09 L159.65,532.34 L158.68,532.58 L157.70,532.82 L156.73,533.07 L155.76,533.31 L154.78,533.55 L153.81,533.80 L152.84,534.04 L151.86,534.28 L150.89,534.53 L149.92,534.77 L148.94,535.00 L147.96,535.23 L146.97,535.45 L145.98,535.67 L144.99,535.89 L144.00,536.10 L143.00,536.30 L142.00,536.50 L141.00,536.70 L140.00,536.90 L139.00,537.10 L138.00,537.30 L137.00,537.51 L136.00,537.73 L135.01,537.95 L134.01,538.17 L133.02,538.40 L132.02,538.63 L131.03,538.87 L130.04,539.11 L129.04,539.36 L128.05,539.60 L127.06,539.84 L126.06,540.09 L125.07,540.33 L124.08,540.56 L123.08,540.79 L122.09,541.00 L121.09,541.21 L120.10,541.40 L119.10,541.59 L118.10,541.76 L117.10,541.93 L116.10,542.08 L115.10,542.24 L114.10,542.40 L113.10,542.55 L112.10,542.70 L111.10,542.84 L110.09,542.98 L109.09,543.11 L108.08,543.23 L107.08,543.35 L106.07,543.46 L105.06,543.57 L104.05,543.67 L103.04,543.78 L102.03,543.88 L101.03,543.99 L100.02,544.10 L99.01,544.22 L98.01,544.35 L97.01,544.47 L96.00,544.61 L95.00,544.75 L94.00,544.89 L93.00,545.04 L92.00,545.19 L91.00,545.33 L90.00,545.49 L89.00,545.66 L88.01,545.85 L87.01,546.06 L86.02,546.29 L85.03,546.54 L84.04,546.82 L83.05,547.12 L82.08,547.49 L81.11,547.91 L80.17,548.40 L79.27,548.98 L78.45,549.63 L77.72,550.37 L76.91,551.11 L76.22,552.00 L75.75,553.00 L75.50,554.00 Z" fill="#F4DC96" stroke="none"/>
<rect x="75.7" y="439.6" width="1.1" height="110.1" fill="#FBE5A6"/>
<path d="M75.80,557.60 L76.79,557.31 L77.72,556.90 L78.65,556.48 L79.61,556.09 L80.58,555.71 L81.54,555.32 L82.52,554.94 L83.50,554.57 L84.50,554.24 L85.50,553.92 L86.50,553.61 L87.50,553.31 L88.50,553.03 L89.50,552.75 L90.50,552.49 L91.50,552.24 L92.50,551.99 L93.50,551.73 L94.50,551.48 L95.50,551.24 L96.50,551.01 L97.51,550.79 L98.51,550.58 L99.52,550.37 L100.52,550.18 L101.53,549.99 L102.54,549.82 L103.55,549.64 L104.56,549.47 L105.57,549.30 L106.57,549.13 L107.58,548.96 L108.59,548.80 L109.59,548.65 L110.59,548.50 L111.60,548.35 L112.60,548.21 L113.60,548.08 L114.60,547.95 L115.60,547.82 L116.60,547.69 L117.60,547.56 L118.61,547.43 L119.61,547.31 L120.62,547.19 L121.64,547.08 L122.66,546.97 L123.68,546.87 L124.70,546.76 L125.73,546.67 L126.76,546.57 L127.79,546.47 L128.82,546.38 L129.85,546.28 L130.88,546.19 L131.91,546.09 L132.93,545.99 L133.95,545.89 L134.97,545.80 L135.98,545.70 L136.99,545.60 L138.00,545.50 L139.00,545.40 L140.00,545.30 L141.00,545.20 L142.00,545.10 L143.00,545.00 L144.00,544.90 L145.00,544.80 L146.00,544.70 L147.00,544.60 L148.00,544.50 L149.00,544.40 L150.00,544.30 L151.00,544.20 L152.00,544.10 L153.00,544.00 L154.00,543.90 L155.00,543.80 L156.00,543.70 L157.00,543.60 L158.00,543.50 L159.00,543.40 L160.00,543.30 L161.00,543.20 L162.00,543.10 L163.00,543.00 L164.00,542.90 L165.00,542.79 L166.00,542.69 L167.00,542.58 L168.00,542.48 L169.00,542.37 L170.00,542.27 L171.00,542.16 L172.00,542.05 L173.00,541.95 L174.00,541.84 L175.00,541.73 L176.00,541.63 L177.00,541.52 L178.00,541.41 L179.00,541.30 L180.00,541.19 L181.00,541.08 L182.00,540.97 L183.00,540.86 L184.00,540.75 L185.00,540.63 L186.00,540.52 L187.00,540.41 L188.00,540.29 L189.00,540.18 L190.00,540.07 L191.00,539.95 L192.00,539.84 L193.00,539.73 L194.00,539.62 L195.00,539.51 L196.00,539.40 L197.00,539.30 L198.00,539.19 L199.00,539.09 L200.00,538.98 L201.00,538.88 L202.00,538.77 L203.00,538.67 L204.00,538.57 L205.00,538.46 L206.00,538.36 L207.00,538.25 L208.01,538.15 L209.01,538.04 L210.02,537.93 L211.03,537.82 L212.04,537.71 L213.05,537.60 L214.06,537.49 L215.07,537.38 L216.08,537.27 L217.09,537.16 L218.10,537.05 L219.11,536.94 L220.12,536.83 L221.13,536.72 L222.14,536.61 L223.15,536.50 L224.16,536.39 L225.17,536.28 L226.18,536.17 L227.19,536.06 L228.21,535.94 L229.22,535.83 L230.23,535.72 L231.24,535.61 L232.25,535.50 L233.26,535.39 L234.27,535.28 L235.28,535.17 L236.29,535.06 L237.30,534.95 L238.31,534.84 L239.32,534.73 L240.33,534.62 L241.34,534.51 L242.35,534.40 L243.36,534.29 L244.37,534.18 L245.38,534.06 L246.39,533.95 L247.40,533.84 L248.40,533.73 L249.41,533.62 L250.42,533.50 L251.42,533.39 L252.42,533.28 L253.43,533.17 L254.43,533.05 L255.44,532.94 L256.44,532.83 L257.45,532.71 L258.45,532.60 L259.45,532.49 L260.46,532.37 L261.46,532.26 L262.47,532.15 L263.47,532.03 L264.48,531.92 L265.48,531.81 L266.48,531.70 L267.49,531.58 L268.50,531.46 L269.50,531.34 L270.51,531.22 L271.52,531.09 L272.53,530.97 L273.54,530.84 L274.55,530.71 L275.56,530.58 L276.57,530.44 L277.58,530.31 L278.59,530.18 L279.60,530.05 L280.61,529.92 L281.62,529.79 L282.63,529.66 L283.64,529.52 L284.65,529.39 L285.66,529.26 L286.67,529.13 L287.69,529.01 L288.70,528.88 L289.71,528.76 L290.73,528.64 L291.74,528.53 L292.76,528.41 L293.77,528.30 L294.79,528.19 L295.80,528.08 L296.82,527.97 L297.83,527.86 L298.85,527.75 L299.87,527.64 L300.88,527.53 L301.90,527.42 L302.91,527.31 L303.93,527.20 L304.94,527.09 L305.96,526.97 L306.97,526.86 L307.99,526.75 L309.00,526.63 L310.01,526.51 L311.03,526.40 L312.04,526.28 L313.05,526.16 L314.06,526.03 L315.07,525.91 L316.08,525.79 L317.09,525.67 L318.10,525.55 L319.11,525.43 L320.12,525.31 L321.13,525.19 L322.14,525.07 L323.15,524.94 L324.16,524.82 L325.17,524.69 L326.17,524.55 L327.17,524.40 L328.17,524.24 L329.17,524.08 L330.16,523.90 L331.15,523.72 L332.13,523.52 L333.12,523.33 L334.10,523.13 L335.08,522.94 L336.07,522.74 L337.05,522.55 L338.04,522.35 L339.02,522.16 L340.01,521.96 L340.99,521.77 L341.98,521.57 L342.96,521.38 L343.94,521.18 L344.92,520.96 L345.90,520.74 L346.87,520.50 L347.84,520.25 L348.81,519.99 L349.78,519.72 L350.74,519.44 L351.70,519.15 L352.66,518.86 L353.62,518.56 L354.58,518.26 L355.54,517.95 L356.50,517.63 L357.47,517.30 L358.43,516.97 L359.39,516.62 L360.36,516.27 L361.32,515.91 L362.29,515.56 L363.25,515.20 L364.21,514.84 L365.18,514.49 L366.14,514.13 L367.11,513.77 L368.07,513.40 L369.03,513.03 L370.00,512.65 L370.96,512.27 L371.92,511.89 L372.88,511.50 L373.84,511.10 L374.80,510.70 L375.76,510.30 L376.72,509.89 L377.67,509.48 L378.61,509.06 L379.55,508.63 L380.49,508.19 L381.42,507.75 L382.34,507.29 L383.26,506.83 L384.17,506.37 L385.09,505.90 L386.00,505.43 L386.91,504.96 L387.81,504.47 L388.71,503.98 L389.60,503.49 L390.49,502.98 L391.37,502.47 L392.25,501.95 L393.13,501.43 L394.00,500.90 L394.87,500.37 L395.75,499.84 L396.62,499.31 L397.49,498.78 L398.37,498.24 L399.25,497.70 L400.13,497.16 L401.01,496.61 L401.89,496.06 L402.77,495.50 L403.65,494.95 L404.53,494.40 L405.42,493.84 L406.31,493.31 L407.21,492.78 L408.12,492.27 L409.03,491.77 L409.96,491.29 L410.89,490.82 L411.83,490.36 L412.78,489.92 L413.72,489.48 L414.67,489.03 L415.59,488.55 L416.48,488.03 L417.34,487.49 L418.18,486.90 L418.99,486.29 L419.77,485.64 L420.53,484.95 L421.26,484.24 L421.98,483.50 L422.69,482.76 L423.40,482.01 L424.11,481.25 L424.80,480.49 L425.50,479.72 L426.19,478.94 L426.87,478.15 L427.56,477.38 L428.26,476.62 L428.97,475.88 L429.70,475.16 L430.43,474.45 L431.17,473.76 L431.93,473.09 L432.70,472.45 L433.49,471.83 L434.29,471.24 L435.11,470.67 L435.95,470.12 L436.79,469.59 L437.66,469.08 L438.53,468.60 L439.42,468.14 L440.32,467.68 L441.22,467.22 L442.12,466.77 L443.02,466.31 L443.93,465.86 L444.84,465.41 L445.76,464.96 L446.67,464.51 L447.59,464.06 L448.51,463.60 L449.43,463.12 L450.35,462.63 L451.28,462.13 L452.20,461.62 L453.12,461.11 L454.03,460.59 L454.94,460.06 L455.83,459.51 L456.71,458.93 L457.56,458.31 L458.35,457.65 L459.07,456.93 L459.73,456.15 L460.32,455.31 L460.83,454.41 L461.26,453.46 L461.61,452.49 L461.88,451.50 L462.11,450.50 L462.32,449.50 L462.49,448.50 L462.63,447.50 L462.76,446.50 L462.88,445.50 L463.00,444.50 L463.10,443.50 L463.20,442.50 L463.30,441.50 L463.39,440.50 L463.47,439.50 L463.56,438.50 L463.65,437.50 L463.73,436.50 L463.82,435.50 L463.91,434.50 L464.00,433.50" fill="none" stroke="#E6B40C" stroke-width="2" stroke-linejoin="round" stroke-linecap="round"/>
<line x1="74.9" y1="388.3" x2="74.9" y2="558.4000000000001" stroke="#000" stroke-width="1.6"/>
<line x1="465.3" y1="388.3" x2="465.3" y2="558.4000000000001" stroke="#000" stroke-width="1.6"/>
<line x1="74.10000000000001" y1="389.0" x2="466.1" y2="389.0" stroke="#000" stroke-width="1.5"/>
<line x1="74.10000000000001" y1="557.7" x2="466.1" y2="557.7" stroke="#000" stroke-width="1.5"/>
<line x1="70" y1="389.0" x2="74.9" y2="389.0" stroke="#000" stroke-width="1.4"/>
<text x="64.8" y="393.3" font-size="12" text-anchor="end">1.5</text>
<line x1="70" y1="422.74" x2="74.9" y2="422.74" stroke="#000" stroke-width="1.4"/>
<text x="64.8" y="427.04" font-size="12" text-anchor="end">0.5</text>
<line x1="70" y1="456.48" x2="74.9" y2="456.48" stroke="#000" stroke-width="1.4"/>
<text x="64.8" y="460.78" font-size="12" text-anchor="end">-0.5</text>
<line x1="70" y1="490.22" x2="74.9" y2="490.22" stroke="#000" stroke-width="1.4"/>
<text x="64.8" y="494.52" font-size="12" text-anchor="end">-1.5</text>
<line x1="70" y1="523.96" x2="74.9" y2="523.96" stroke="#000" stroke-width="1.4"/>
<text x="64.8" y="528.26" font-size="12" text-anchor="end">-2.5</text>
<line x1="70" y1="557.7" x2="74.9" y2="557.7" stroke="#000" stroke-width="1.4"/>
<text x="64.8" y="562.0" font-size="12" text-anchor="end">-3.5</text>
<line x1="465.3" y1="557.7" x2="470.6" y2="557.7" stroke="#000" stroke-width="1.4"/>
<text x="475.2" y="562.0" font-size="12" text-anchor="start">0</text>
<line x1="465.3" y1="540.83" x2="470.6" y2="540.83" stroke="#000" stroke-width="1.4"/>
<text x="475.2" y="545.13" font-size="12" text-anchor="start">5</text>
<line x1="465.3" y1="523.96" x2="470.6" y2="523.96" stroke="#000" stroke-width="1.4"/>
<text x="475.2" y="528.26" font-size="12" text-anchor="start">10</text>
<line x1="465.3" y1="507.09000000000003" x2="470.6" y2="507.09000000000003" stroke="#000" stroke-width="1.4"/>
<text x="475.2" y="511.39" font-size="12" text-anchor="start">15</text>
<line x1="465.3" y1="490.22" x2="470.6" y2="490.22" stroke="#000" stroke-width="1.4"/>
<text x="475.2" y="494.52" font-size="12" text-anchor="start">20</text>
<line x1="465.3" y1="473.35" x2="470.6" y2="473.35" stroke="#000" stroke-width="1.4"/>
<text x="475.2" y="477.65" font-size="12" text-anchor="start">25</text>
<line x1="465.3" y1="456.48" x2="470.6" y2="456.48" stroke="#000" stroke-width="1.4"/>
<text x="475.2" y="460.78" font-size="12" text-anchor="start">30</text>
<line x1="465.3" y1="439.61" x2="470.6" y2="439.61" stroke="#000" stroke-width="1.4"/>
<text x="475.2" y="443.91" font-size="12" text-anchor="start">35</text>
<line x1="465.3" y1="422.74" x2="470.6" y2="422.74" stroke="#000" stroke-width="1.4"/>
<text x="475.2" y="427.04" font-size="12" text-anchor="start">40</text>
<line x1="465.3" y1="405.87" x2="470.6" y2="405.87" stroke="#000" stroke-width="1.4"/>
<text x="475.2" y="410.17" font-size="12" text-anchor="start">45</text>
<line x1="465.3" y1="389.0" x2="470.6" y2="389.0" stroke="#000" stroke-width="1.4"/>
<text x="475.2" y="393.3" font-size="12" text-anchor="start">50</text>
<text x="459.4" y="550.5" font-size="12" text-anchor="end" textLength="88.4" lengthAdjust="spacingAndGlyphs">Validation cohort</text>
<text transform="translate(35.3,470.5) rotate(-90)" font-size="14" text-anchor="middle" textLength="107.5" lengthAdjust="spacingAndGlyphs">Prognostic index (PI)</text>
<text transform="translate(505.9,470.9) rotate(-90)" font-size="14" text-anchor="middle" textLength="122" lengthAdjust="spacingAndGlyphs">Relapse risk (at 5 years)</text>
<line x1="39.5" y1="608.3" x2="493.3" y2="608.3" stroke="#000" stroke-width="1.5"/>
<line x1="40.2" y1="626.9" x2="492.6" y2="626.9" stroke="#000" stroke-width="1.5"/>
<line x1="39.5" y1="645.8" x2="493.3" y2="645.8" stroke="#000" stroke-width="1.5"/>
<line x1="39.5" y1="664.8" x2="493.3" y2="664.8" stroke="#000" stroke-width="1.5"/>
<line x1="39.5" y1="683.6" x2="493.3" y2="683.6" stroke="#000" stroke-width="1.5"/>
<line x1="39.5" y1="702.0" x2="493.3" y2="702.0" stroke="#000" stroke-width="1.5"/>
<line x1="39.5" y1="720.9" x2="493.3" y2="720.9" stroke="#000" stroke-width="1.5"/>
<line x1="39.5" y1="739.4" x2="493.3" y2="739.4" stroke="#000" stroke-width="1.5"/>
<line x1="40.2" y1="607.5999999999999" x2="40.2" y2="740.1" stroke="#000" stroke-width="1.5"/>
<line x1="167.2" y1="607.5999999999999" x2="167.2" y2="740.1" stroke="#000" stroke-width="1.5"/>
<line x1="275.7" y1="626.9" x2="275.7" y2="739.4" stroke="#000" stroke-width="1.5"/>
<line x1="384.0" y1="626.9" x2="384.0" y2="739.4" stroke="#000" stroke-width="1.5"/>
<line x1="492.6" y1="607.5999999999999" x2="492.6" y2="740.1" stroke="#000" stroke-width="1.5"/>
<text x="103.7" y="620.9" font-size="12" text-anchor="middle" textLength="69.7" lengthAdjust="spacingAndGlyphs">Cohort / Trial</text>
<text x="329.9" y="620.9" font-size="12" text-anchor="middle" textLength="198" lengthAdjust="spacingAndGlyphs">Hazard ratio (95% CI) for the risk of …</text>
<text x="221.45" y="639.65" font-size="12" text-anchor="middle" textLength="30.2" lengthAdjust="spacingAndGlyphs">Event</text>
<text x="329.85" y="639.65" font-size="12" text-anchor="middle" textLength="42" lengthAdjust="spacingAndGlyphs">Relapse</text>
<text x="438.3" y="639.65" font-size="12" text-anchor="middle" textLength="33.3" lengthAdjust="spacingAndGlyphs">Death</text>
<text x="103.7" y="658.6" font-size="12" text-anchor="middle" textLength="116.5" lengthAdjust="spacingAndGlyphs">Discovery/UKALL2003</text>
<text x="221.45" y="658.6" font-size="12" text-anchor="middle" textLength="82.8" lengthAdjust="spacingAndGlyphs">2.53 (2.22-2.87)</text>
<text x="329.85" y="658.6" font-size="12" text-anchor="middle" textLength="82.8" lengthAdjust="spacingAndGlyphs">2.72 (2.36-3.13)</text>
<text x="438.3" y="658.6" font-size="12" text-anchor="middle" textLength="82.8" lengthAdjust="spacingAndGlyphs">3.18 (2.69-3.75)</text>
<text x="103.7" y="677.5" font-size="12" text-anchor="middle" textLength="52" lengthAdjust="spacingAndGlyphs">Validation</text>
<text x="221.45" y="677.5" font-size="12" text-anchor="middle" textLength="82.8" lengthAdjust="spacingAndGlyphs">2.17 (1.91-2.46)</text>
<text x="329.85" y="677.5" font-size="12" text-anchor="middle" textLength="82.8" lengthAdjust="spacingAndGlyphs">2.33 (2.02-2.70)</text>
<text x="436.3" y="677.5" font-size="12" text-anchor="middle" textLength="82.8" lengthAdjust="spacingAndGlyphs">2.66 (2.26-3.15)</text>
<text x="103.7" y="696.1" font-size="12" text-anchor="middle" textLength="94" lengthAdjust="spacingAndGlyphs">NOPHO-ALL2008</text>
<text x="221.45" y="696.1" font-size="12" text-anchor="middle" textLength="82.8" lengthAdjust="spacingAndGlyphs">2.34 (1.98-2.77)</text>
<text x="329.85" y="696.1" font-size="12" text-anchor="middle" textLength="82.8" lengthAdjust="spacingAndGlyphs">2.80 (2.29-3.44)</text>
<text x="438.3" y="696.1" font-size="12" text-anchor="middle" textLength="82.8" lengthAdjust="spacingAndGlyphs">2.74 (2.21-3.40)</text>
<text x="103.7" y="714.75" font-size="12" text-anchor="middle" textLength="73.5" lengthAdjust="spacingAndGlyphs">DCOG-ALL10</text>
<text x="221.45" y="714.75" font-size="12" text-anchor="middle" textLength="82.8" lengthAdjust="spacingAndGlyphs">2.07 (1.63-2.63)</text>
<text x="329.85" y="714.75" font-size="12" text-anchor="middle" textLength="82.8" lengthAdjust="spacingAndGlyphs">2.05 (1.58-2.67)</text>
<text x="438.3" y="714.75" font-size="12" text-anchor="middle" textLength="82.8" lengthAdjust="spacingAndGlyphs">2.35 (1.70-3.26)</text>
<text x="103.7" y="733.45" font-size="12" text-anchor="middle" textLength="69" lengthAdjust="spacingAndGlyphs">CoALL-07-03</text>
<text x="221.45" y="733.45" font-size="12" text-anchor="middle" textLength="82.8" lengthAdjust="spacingAndGlyphs">1.93 (1.37-2.73)</text>
<text x="329.85" y="733.45" font-size="12" text-anchor="middle" textLength="82.8" lengthAdjust="spacingAndGlyphs">1.90 (1.31-2.74)</text>
<text x="438.3" y="733.45" font-size="12" text-anchor="middle" textLength="82.8" lengthAdjust="spacingAndGlyphs">3.13 (1.91-5.13)</text>
</svg>
</body></html>
